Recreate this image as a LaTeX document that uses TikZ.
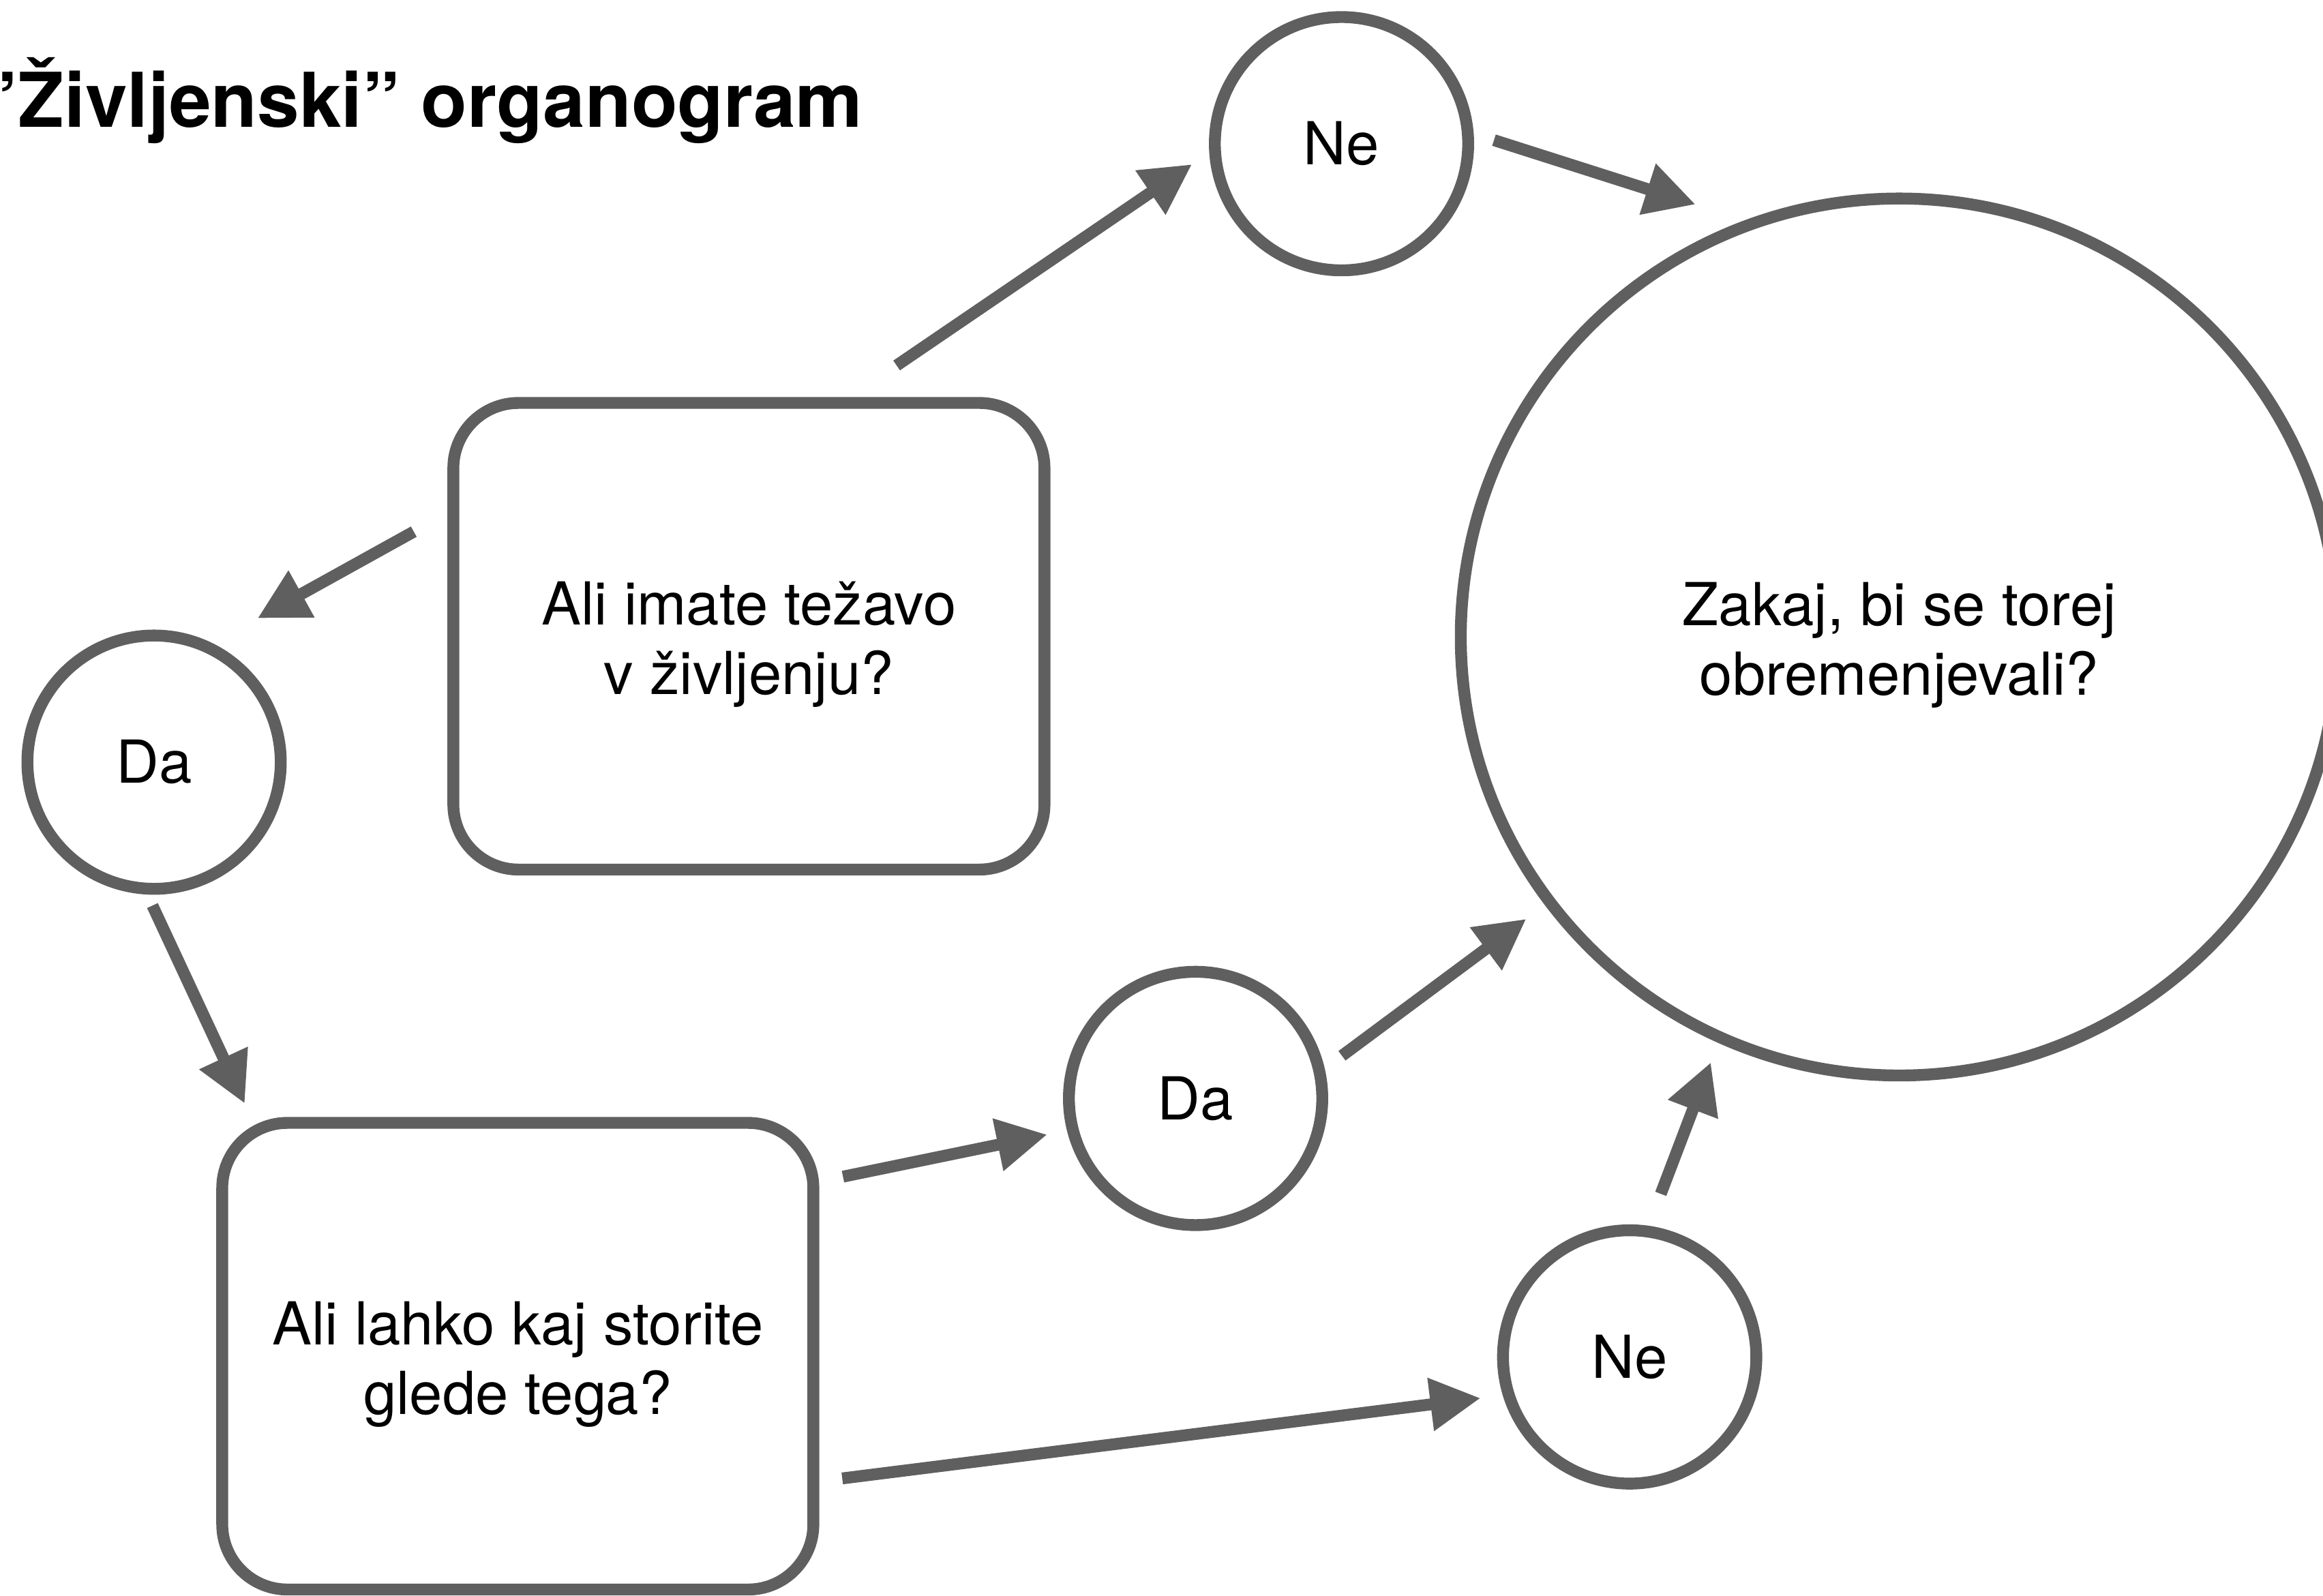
\documentclass[tikz,border=0pt]{standalone}
\usepackage{fontspec}
\setmainfont{TeX Gyre Heros}
\usetikzlibrary{arrows.meta,calc}
\definecolor{inkgray}{RGB}{95,95,95}
% zero-width strut that lowers a two-line label a little inside its shape
\newcommand{\tallstrut}{\rule{0pt}{40pt}}
\begin{document}
\begin{tikzpicture}[x=1pt,y=-1pt,
  every node/.style={font=\fontsize{40}{47}\selectfont, align=center, text=black},
  shapeline/.style={draw=inkgray, line width=8pt, fill=white},
  question/.style={shapeline, rectangle, rounded corners=44pt,
    minimum width=399pt, minimum height=315pt, inner sep=0pt},
  answer/.style={shapeline, circle, minimum size=171pt, inner sep=0pt},
  outcome/.style={shapeline, circle, minimum size=592pt, inner sep=0pt},
  link/.style={draw=inkgray, line width=8pt, -{Triangle[length=34pt,width=34pt]}},
  heading/.style={font=\fontsize{51}{61}\selectfont\bfseries, anchor=base west, inner sep=0pt}]

\useasboundingbox (0,0) rectangle (1568,1077);

% title
\node[heading] (title) at (-2,86) {’Življenski” organogram};

% questions
\node[question] (q1) at (505.5,429.5) {\tallstrut Ali imate težavo\\v življenju?};
\node[question] (q2) at (349.5,915.5) {\tallstrut Ali lahko kaj storite\\glede tega?};

% answers
\node[answer] (ne1) at (905.5,97)   {Ne};
\node[answer] (da1) at (104,514.5)  {Da};
\node[answer] (da2) at (807,741.5)  {Da};
\node[answer] (ne2) at (1100,916)   {Ne};

% final outcome
\node[outcome] (end) at (1282,430) {\tallstrut Zakaj, bi se torej\\obremenjevali?};

% connector ends, placed around their nodes
\coordinate (q1-ne)  at ($(q1)+(99.7,-182.8)$);
\coordinate (ne1-in) at ($(ne1)+(-100.9,13.9)$);
\coordinate (ne1-out) at ($(ne1)+(102.9,-2.4)$);
\coordinate (end-ne1) at ($(end)+(-137.5,-292)$);
\coordinate (q1-da)  at ($(q1)+(-226.2,-70.6)$);
\coordinate (da1-in) at ($(da1)+(69.8,-97.1)$);
\coordinate (da1-out) at ($(da1)+(-1.1,96.8)$);
\coordinate (q2-in)  at ($(q2)+(-184.3,-170.5)$);
\coordinate (q2-da)  at ($(q2)+(219.5,-121.2)$);
\coordinate (da2-in) at ($(da2)+(-100.1,24.4)$);
\coordinate (da2-out) at ($(da2)+(98.8,-28.8)$);
\coordinate (end-da2) at ($(end)+(-251.8,190.3)$);
\coordinate (q2-ne)  at ($(q2)+(219,82.5)$);
\coordinate (ne2-in) at ($(ne2)+(-100.6,27.8)$);
\coordinate (ne2-out) at ($(ne2)+(21,-110.1)$);
\coordinate (end-ne2) at ($(end)+(-127.2,287.1)$);

% connectors
\draw[link] (q1-ne)   -- (ne1-in);
\draw[link] (ne1-out) -- (end-ne1);
\draw[link] (q1-da)   -- (da1-in);
\draw[link] (da1-out) -- (q2-in);
\draw[link] (q2-da)   -- (da2-in);
\draw[link] (da2-out) -- (end-da2);
\draw[link] (q2-ne)   -- (ne2-in);
\draw[link] (ne2-out) -- (end-ne2);
\end{tikzpicture}
\end{document}
